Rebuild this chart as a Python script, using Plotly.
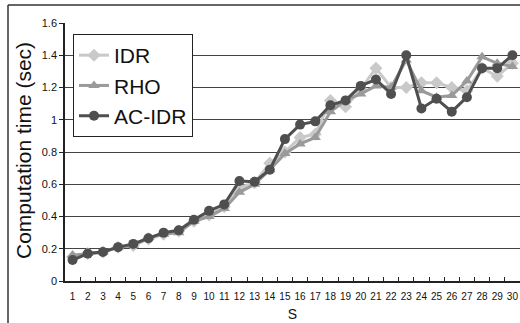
import plotly.graph_objects as go

s_labels = [str(i) for i in range(1, 31)]
idr = [0.15, 0.17, 0.18, 0.21, 0.22, 0.26, 0.29, 0.31, 0.37, 0.41, 0.46, 0.58, 0.61, 0.73, 0.80,
       0.89, 0.91, 1.12, 1.08, 1.19, 1.32, 1.20, 1.20, 1.23, 1.23, 1.20, 1.18, 1.32, 1.27, 1.35]
rho = [0.16, 0.17, 0.18, 0.21, 0.22, 0.27, 0.29, 0.30, 0.37, 0.40, 0.45, 0.55, 0.60, 0.69, 0.79,
       0.85, 0.89, 1.05, 1.12, 1.16, 1.21, 1.20, 1.37, 1.18, 1.14, 1.15, 1.24, 1.39, 1.35, 1.33]
ac_idr = [0.13, 0.17, 0.18, 0.21, 0.23, 0.265, 0.30, 0.315, 0.38, 0.435, 0.475, 0.62, 0.615, 0.69, 0.88,
          0.97, 0.99, 1.09, 1.12, 1.21, 1.25, 1.16, 1.40, 1.07, 1.13, 1.05, 1.14, 1.32, 1.32, 1.40]
y_ticks = [0, 0.2, 0.4, 0.6, 0.8, 1, 1.2, 1.4, 1.6]
y_tick_text = ["0", "0.2", "0.4", "0.6", "0.8", "1", "1.2", "1.4", "1.6"]
y_title = "Computation time (sec)"
x_title = "S"

fig = go.Figure()
series = [
    ("IDR", idr, "#c9c9c9", "diamond", 10),
    ("RHO", rho, "#9a9a9a", "triangle-up", 10),
    ("AC-IDR", ac_idr, "#4f4f4f", "circle", 10),
]
for name, vals, col, sym, sz in series:
    fig.add_trace(go.Scatter(
        x=s_labels, y=vals, name=name, mode="lines+markers",
        line=dict(color=col, width=3),
        marker=dict(symbol=sym, size=sz, color=col),
    ))

W, H = 520, 323
L, R, T, B = 65, 0, 23, 42
pw = W - L - R
ph = H - T - B

def px(x):
    return (x - L) / pw

def py(y):
    return (H - B - y) / ph

fig.update_layout(
    width=W, height=H,
    margin=dict(l=L, r=R, t=T, b=B, autoexpand=False),
    paper_bgcolor="white", plot_bgcolor="white",
    font=dict(family="Liberation Sans, Arial, sans-serif", color="#111"),
    showlegend=True,
    legend=dict(
        x=px(73), y=py(34), xanchor="left", yanchor="top",
        bgcolor="white", bordercolor="#222", borderwidth=1,
        font=dict(size=21, color="#111"),
        itemwidth=30, traceorder="normal",
    ),
    xaxis=dict(
        type="category", range=[-0.5, 29.5], automargin=False,
        tickson="boundaries", ticks="inside", ticklen=4, tickcolor="#222",
        tickangle=0, ticklabelstandoff=5,
        showline=True, linecolor="#222", linewidth=1.5,
        showgrid=False,
        tickfont=dict(size=10, color="#111"),
        title=dict(text=x_title, font=dict(size=14), standoff=8),
    ),
    yaxis=dict(
        range=[0, 1.6], tickvals=y_ticks, ticktext=y_tick_text, automargin=False,
        ticks="outside", ticklen=4, tickcolor="#222",
        showline=True, linecolor="#222", linewidth=1.5,
        showgrid=True, gridcolor="#444", gridwidth=1,
        zeroline=False,
        tickfont=dict(size=11, color="#111"),
    ),
    annotations=[
        dict(text=y_title, textangle=-90, xref="paper", yref="paper",
             x=px(23), y=py(151), xanchor="center", yanchor="middle",
             showarrow=False, font=dict(size=21, color="#111")),
    ],
    shapes=[
        dict(type="line", xref="paper", yref="paper", x0=px(8), x1=px(8), y0=py(5), y1=py(H + 5),
             line=dict(color="#333", width=1.5)),
        dict(type="line", xref="paper", yref="paper", x0=px(8), x1=px(W + 5), y0=py(5), y1=py(5),
             line=dict(color="#333", width=1.5)),
    ],
)

fig.write_html("out.html", config={"displayModeBar": False},
               post_script="document.body.style.margin='0';document.body.style.overflow='hidden';")
